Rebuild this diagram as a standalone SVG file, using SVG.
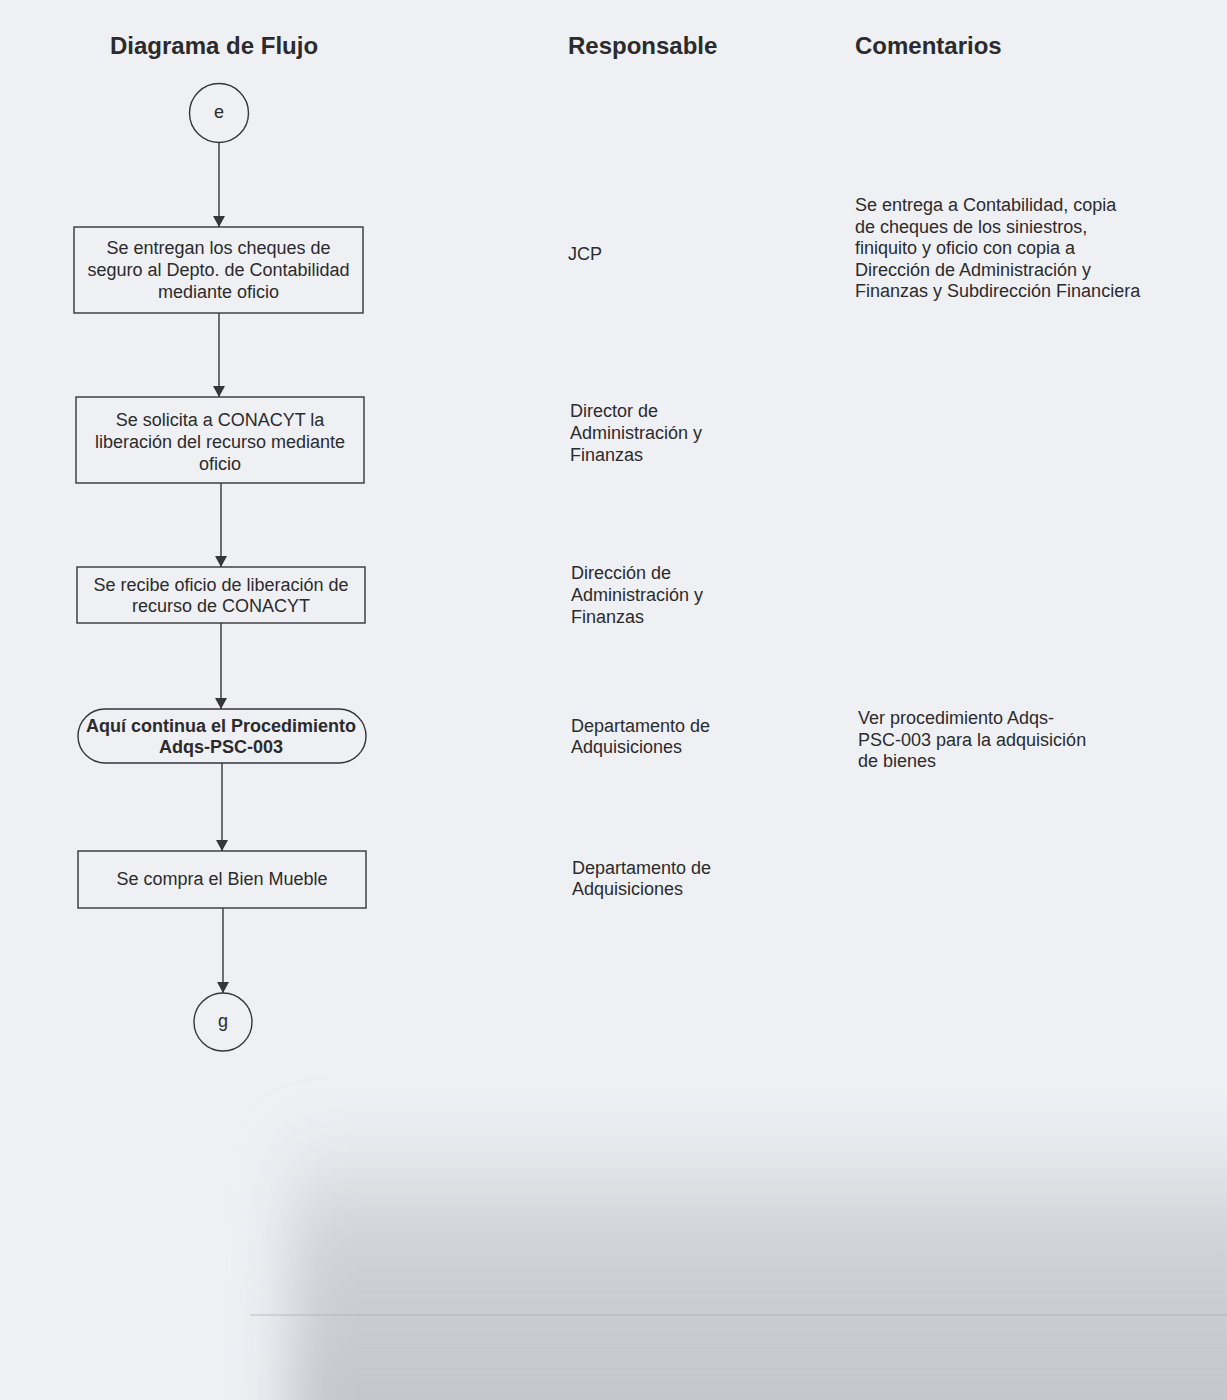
<svg xmlns="http://www.w3.org/2000/svg" width="1227" height="1400" viewBox="0 0 1227 1400">
  <style>
    .hdr { font-family: "Liberation Sans", Arial, sans-serif; font-size: 24px; font-weight: bold; fill: #2b2b2d; }
    .txt { font-family: "Liberation Sans", Arial, sans-serif; font-size: 18px; fill: #2b2b2d; }
    .ctr { text-anchor: middle; }
    .bold { font-weight: bold; }
    .shape { fill: none; stroke: #35353a; stroke-width: 1.4; }
    .edge { fill: none; stroke: #35353a; stroke-width: 1.4; marker-end: url(#arrow); }
  </style>
  <defs>
    <marker id="arrow" markerUnits="userSpaceOnUse" markerWidth="12" markerHeight="12" refX="11" refY="6" orient="auto">
      <path d="M0,0 L11,6 L0,12 Z" fill="#35353a"/>
    </marker>
    <linearGradient id="shade" x1="0" y1="0" x2="0" y2="1">
      <stop offset="0" stop-color="#b8b9bf" stop-opacity="0"/>
      <stop offset="0.35" stop-color="#b8b9bf" stop-opacity="0.55"/>
      <stop offset="1" stop-color="#b4b5bb" stop-opacity="0.8"/>
    </linearGradient>
    <filter id="soft" filterUnits="userSpaceOnUse" x="0" y="900" width="1500" height="700" color-interpolation-filters="sRGB">
      <feGaussianBlur stdDeviation="28"/>
    </filter>
  </defs>

  <!-- paper -->
  <rect x="0" y="0" width="1227" height="1400" fill="#eff0f4"/>
  <rect x="290" y="1120" width="1000" height="340" fill="url(#shade)" filter="url(#soft)"/>
  <line x1="250" y1="1315" x2="1227" y2="1315" stroke="#a9aab0" stroke-width="1.2" opacity="0.7"/>

  <!-- column headings -->
  <g id="headings">
    <text class="hdr" x="110" y="54">Diagrama de Flujo</text>
    <text class="hdr" x="568" y="54">Responsable</text>
    <text class="hdr" x="855" y="54">Comentarios</text>
  </g>

  <!-- connectors -->
  <g id="connectors">
    <line class="edge" x1="219" y1="142" x2="219" y2="227"/>
    <line class="edge" x1="219" y1="313" x2="219" y2="397"/>
    <line class="edge" x1="221" y1="483" x2="221" y2="567"/>
    <line class="edge" x1="221" y1="623" x2="221" y2="709"/>
    <line class="edge" x1="222" y1="763" x2="222" y2="851"/>
    <line class="edge" x1="223" y1="908" x2="223" y2="993"/>
  </g>

  <!-- flow nodes -->
  <g id="start-e">
    <circle class="shape" cx="219" cy="113" r="29.5"/>
    <text class="txt ctr" x="219" y="118">e</text>
  </g>

  <g id="step-entrega-cheques">
    <rect class="shape" x="74" y="227" width="289" height="86"/>
    <text class="txt ctr" x="218.5" y="254">Se entregan los cheques de</text>
    <text class="txt ctr" x="218.5" y="276">seguro al Depto. de Contabilidad</text>
    <text class="txt ctr" x="218.5" y="298">mediante oficio</text>
  </g>

  <g id="step-solicita-conacyt">
    <rect class="shape" x="76" y="397" width="288" height="86"/>
    <text class="txt ctr" x="220" y="426">Se solicita a CONACYT la</text>
    <text class="txt ctr" x="220" y="448">liberación del recurso mediante</text>
    <text class="txt ctr" x="220" y="470">oficio</text>
  </g>

  <g id="step-recibe-oficio">
    <rect class="shape" x="77" y="567" width="288" height="56"/>
    <text class="txt ctr" x="221" y="591">Se recibe oficio de liberación de</text>
    <text class="txt ctr" x="221" y="612">recurso de CONACYT</text>
  </g>

  <g id="step-procedimiento">
    <rect class="shape" x="78" y="709" width="288" height="54" rx="27" ry="27"/>
    <text class="txt ctr bold" x="221" y="732">Aquí continua el Procedimiento</text>
    <text class="txt ctr bold" x="221" y="753">Adqs-PSC-003</text>
  </g>

  <g id="step-compra">
    <rect class="shape" x="78" y="851" width="288" height="57"/>
    <text class="txt ctr" x="222" y="885">Se compra el Bien Mueble</text>
  </g>

  <g id="end-g">
    <circle class="shape" cx="223" cy="1022" r="29"/>
    <text class="txt ctr" x="223" y="1027">g</text>
  </g>

  <!-- responsible column -->
  <g id="responsables">
    <text class="txt" x="568" y="260">JCP</text>
    <text class="txt" x="570" y="417">Director de</text>
    <text class="txt" x="570" y="439">Administración y</text>
    <text class="txt" x="570" y="461">Finanzas</text>
    <text class="txt" x="571" y="579">Dirección de</text>
    <text class="txt" x="571" y="601">Administración y</text>
    <text class="txt" x="571" y="623">Finanzas</text>
    <text class="txt" x="571" y="732">Departamento de</text>
    <text class="txt" x="571" y="753">Adquisiciones</text>
    <text class="txt" x="572" y="874">Departamento de</text>
    <text class="txt" x="572" y="895">Adquisiciones</text>
  </g>

  <!-- comments column -->
  <g id="comentarios">
    <text class="txt" x="855" y="211">Se entrega a Contabilidad, copia</text>
    <text class="txt" x="855" y="232.5">de cheques de los siniestros,</text>
    <text class="txt" x="855" y="254">finiquito y oficio con copia a</text>
    <text class="txt" x="855" y="275.5">Dirección de Administración y</text>
    <text class="txt" x="855" y="297">Finanzas y Subdirección Financiera</text>
    <text class="txt" x="858" y="724">Ver procedimiento Adqs-</text>
    <text class="txt" x="858" y="746">PSC-003 para la adquisición</text>
    <text class="txt" x="858" y="767">de bienes</text>
  </g>
</svg>
